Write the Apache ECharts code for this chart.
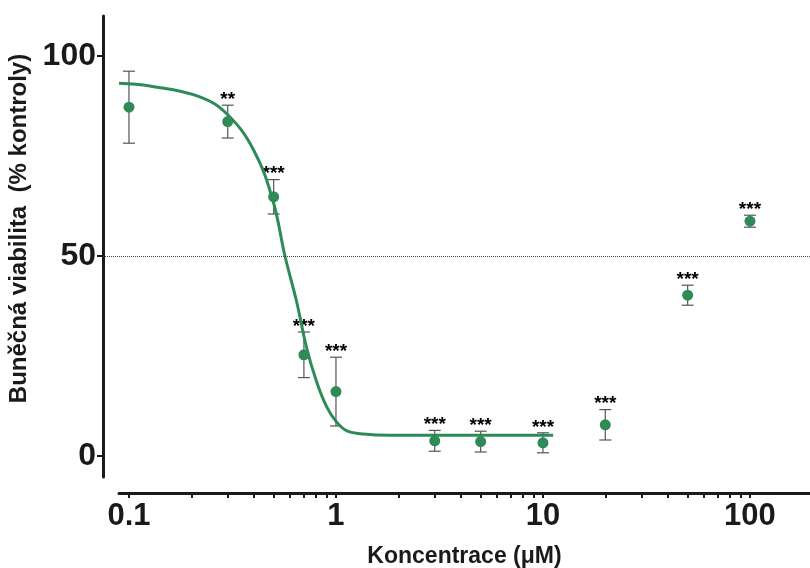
<!DOCTYPE html>
<html>
<head>
<meta charset="utf-8">
<script src="https://cdn.jsdelivr.net/npm/echarts@6/dist/echarts.min.js"></script>
<style>
  html, body { margin: 0; padding: 0; background: #fff; }
  #chart { width: 810px; height: 568px; }
</style>
</head>
<body>
<div id="chart"></div>
<script>
const concentrations = [0.1, 0.3, 0.5, 0.7, 1, 3, 5, 10, 20, 50, 100]
const viability = [87.2, 83.6, 64.8, 25.3, 16.1, 3.8, 3.6, 3.3, 7.8, 40.2, 58.7]
const errors = [9.0, 4.1, 4.3, 5.7, 8.6, 2.6, 2.6, 2.5, 3.8, 2.5, 1.5]
const significance = ['', '**', '***', '***', '***', '***', '***', '***', '***', '***', '***']

// fitted curve
const fitX = [0.0895, 0.126, 0.22, 0.30, 0.40, 0.495, 0.567, 0.646, 0.722, 0.807, 0.902, 1.01, 1.13, 1.36, 1.82, 3, 5, 11.2]
const fitY = [93.2, 92.5, 89.8, 85.3, 76.5, 64, 50, 38.5, 27, 18.5, 12.3, 8.4, 6.3, 5.5, 5.2, 5.2, 5.2, 5.2]

// axes
const xTicks = [0.1, 0.2, 0.3, 0.4, 0.5, 0.6, 0.7, 0.8, 0.9,
  1, 2, 3, 4, 5, 6, 7, 8, 9,
  10, 20, 30, 40, 50, 60, 70, 80, 90, 100]
const xLabels = [0.1, 1, 10, 100]
const yTicks = [0, 50, 100]
const referenceLevel = 50

const green = '#2e8b57'
const ink = '#1a1a1a'
const font = 'Liberation Sans'

const chart = echarts.init(document.getElementById('chart'))

function renderErrorBar(params, api) {
  const x = api.value(0)
  const lo = api.coord([x, api.value(1)])
  const hi = api.coord([x, api.value(2)])
  const half = 6
  const style = { stroke: '#555', lineWidth: 1.2 }
  const children = [
    { type: 'line', shape: { x1: hi[0], y1: hi[1], x2: lo[0], y2: lo[1] }, style: style },
    { type: 'line', shape: { x1: hi[0] - half, y1: hi[1], x2: hi[0] + half, y2: hi[1] }, style: style },
    { type: 'line', shape: { x1: lo[0] - half, y1: lo[1], x2: lo[0] + half, y2: lo[1] }, style: style }
  ]
  const stars = significance[params.dataIndex]
  if (stars) {
    children.push({
      type: 'text',
      x: hi[0],
      y: hi[1] + 4,
      style: {
        text: stars,
        fill: '#000',
        font: 'bold 19px "' + font + '"',
        align: 'center',
        verticalAlign: 'bottom'
      }
    })
  }
  return { type: 'group', children: children }
}

const option = {
  animation: false,
  backgroundColor: '#fff',
  grid: [
    { left: 103, right: 0, top: 16, bottom: 91, outerBoundsMode: 'none' },
    { left: 119, right: 0, top: 16, bottom: 91, outerBoundsMode: 'none' }
  ],
  xAxis: [
    { gridIndex: 0, type: 'value', min: 0, max: 1, show: false },
    {
      gridIndex: 1,
      type: 'log',
      min: 0.0895,
      max: 195,
      offset: 16,
      name: 'Koncentrace (μM)',
      nameLocation: 'middle',
      nameGap: 52,
      nameTextStyle: { color: ink, fontFamily: font, fontWeight: 'bold', fontSize: 23 },
      axisLine: { show: true, onZero: false, lineStyle: { color: ink, width: 3 } },
      axisTick: { show: true, customValues: xTicks, length: 5, inside: false, lineStyle: { color: ink, width: 2 } },
      minorTick: { show: false },
      axisLabel: {
        customValues: xLabels,
        margin: 8,
        color: ink,
        fontFamily: font,
        fontWeight: 'bold',
        fontSize: 31,
        formatter: v => String(v)
      },
      splitLine: { show: false }
    }
  ],
  yAxis: [
    {
      gridIndex: 0,
      type: 'value',
      min: -5.25,
      max: 110,
      name: 'Buněčná viabilita  (% kontroly)',
      nameLocation: 'middle',
      nameGap: 67,
      nameTextStyle: {
        color: ink, fontFamily: font, fontWeight: 'bold', fontSize: 24,
        padding: [0, 0, 0, 36]
      },
      axisLine: { show: true, onZero: false, lineStyle: { color: ink, width: 3 } },
      axisTick: { show: true, customValues: yTicks, length: 6, lineStyle: { color: ink, width: 2 } },
      axisLabel: {
        customValues: yTicks,
        margin: 7,
        color: ink,
        fontFamily: font,
        fontWeight: 'bold',
        fontSize: 32
      },
      splitLine: { show: false }
    },
    { gridIndex: 1, type: 'value', min: -5.25, max: 110, show: false }
  ],
  series: [
    {
      name: 'reference',
      type: 'line',
      xAxisIndex: 0,
      yAxisIndex: 0,
      data: [],
      markLine: {
        silent: true,
        symbol: ['none', 'none'],
        label: { show: false },
        lineStyle: { type: 'dotted', color: '#444', width: 1 },
        data: [{ yAxis: referenceLevel }]
      }
    },
    {
      name: 'error',
      type: 'custom',
      xAxisIndex: 1,
      yAxisIndex: 1,
      renderItem: renderErrorBar,
      encode: { x: 0, y: [1, 2] },
      data: concentrations.map((c, i) => [c, viability[i] - errors[i], viability[i] + errors[i]]),
      z: 2
    },
    {
      name: 'fit',
      type: 'line',
      xAxisIndex: 1,
      yAxisIndex: 1,
      data: fitX.map((x, i) => [x, fitY[i]]),
      smooth: 0.4,
      showSymbol: false,
      lineStyle: { color: green, width: 3 },
      z: 3
    },
    {
      name: 'viability',
      type: 'scatter',
      xAxisIndex: 1,
      yAxisIndex: 1,
      data: concentrations.map((c, i) => [c, viability[i]]),
      symbol: 'circle',
      symbolSize: 11,
      itemStyle: { color: green, opacity: 1 },
      z: 4
    }
  ]
}

chart.setOption(option)
</script>
</body>
</html>
